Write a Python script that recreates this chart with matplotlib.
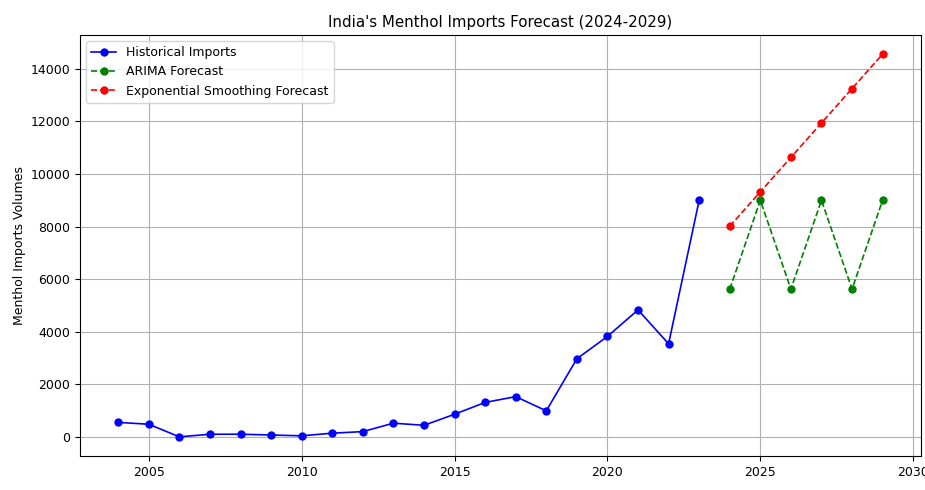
import matplotlib.pyplot as plt


# Historical menthol import volumes, 2004-2023
hist_years = list(range(2004, 2024))
hist_imports = [550, 480, 0, 100, 100, 70, 40, 140, 200, 520,
                440, 860, 1310, 1530, 990, 2970, 3820, 4830, 3540, 9000]

# Forecast horizon and the two model outputs
forecast_years = list(range(2024, 2030))
arima_forecast = [5620, 9000, 5620, 9000, 5620, 9000]
es_forecast = [8010, 9320, 10630, 11940, 13250, 14560]


fig = plt.figure(figsize=(9.25, 4.9), dpi=100)
ax = fig.add_axes([0.0865, 0.0694, 0.909, 0.8592])

ax.plot(hist_years, hist_imports, 'o-', color='b', markersize=5,
        linewidth=1.2, label='Historical Imports')
ax.plot(forecast_years, arima_forecast, 'o--', color='g', markersize=5,
        linewidth=1.2, label='ARIMA Forecast')
ax.plot(forecast_years, es_forecast, 'o--', color='r', markersize=5,
        linewidth=1.2, label='Exponential Smoothing Forecast')

ax.set_title("India's Menthol Imports Forecast (2024-2029)", fontsize=10.8, pad=6)
ax.set_xlabel('Year', fontsize=9, labelpad=8)
ax.set_ylabel('Menthol Imports Volumes', fontsize=9, labelpad=3)
ax.tick_params(labelsize=9)
ax.legend(loc='upper left', fontsize=9)
ax.grid(True)

plt.savefig('out.png', dpi=100)
